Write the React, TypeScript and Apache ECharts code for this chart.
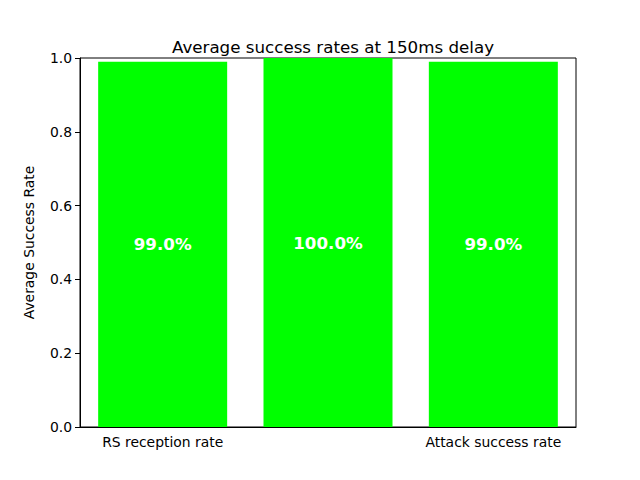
import * as echarts from 'echarts'
import { useEffect, useRef } from 'react'

const categories = ['RS reception rate', 'FS reception rate', 'Attack success rate']
const rates = [0.99, 1.0, 0.99]
const yTicks = [0, 0.2, 0.4, 0.6, 0.8, 1.0]

export default function App() {
  const chartRef = useRef<HTMLDivElement>(null)

  useEffect(() => {
    if (!chartRef.current) return
    const chart = echarts.init(chartRef.current, null, { renderer: 'svg' })

    const font = 'DejaVu Sans'
    chart.setOption({
      animation: false,
      textStyle: { fontFamily: font },
      title: {
        text: 'Average success rates at 150ms delay',
        left: 328,
        textAlign: 'center',
        top: 33,
        textStyle: { fontSize: 16.7, fontWeight: 'normal', color: '#000', fontFamily: font }
      },
      grid: {
        left: 80, right: 64, top: 58, bottom: 53,
        show: true, borderColor: '#000', borderWidth: 1
      },
      xAxis: {
        type: 'category',
        data: categories,
        axisLine: { lineStyle: { color: '#000' } },
        axisTick: { alignWithLabel: true, length: 5, lineStyle: { color: '#000' } },
        axisLabel: { color: '#000', fontSize: 13.9, margin: 8 }
      },
      yAxis: {
        type: 'value',
        min: 0,
        max: 1,
        interval: 0.2,
        name: 'Average Success Rate',
        nameLocation: 'middle',
        nameGap: 44,
        nameTextStyle: { color: '#000', fontSize: 13.9 },
        axisLine: { show: true, lineStyle: { color: '#000' } },
        axisTick: { show: true, length: 5, lineStyle: { color: '#000' } },
        axisLabel: {
          color: '#000', fontSize: 13.9,
          formatter: (v: number) => yTicks.some(t => Math.abs(t - v) < 1e-9) ? v.toFixed(1) : ''
        },
        splitLine: { show: false }
      },
      series: [
        {
          type: 'bar',
          data: rates,
          barWidth: 129,
          itemStyle: { color: '#00ff00' },
          label: {
            show: true,
            position: 'inside',
            formatter: (p: any) => (p.value * 100).toFixed(1) + '%',
            color: '#fff',
            fontWeight: 'bold',
            fontSize: 16.7,
            fontFamily: font
          }
        }
      ]
    })
    return () => chart.dispose()
  }, [])

  return <div ref={chartRef} style={{ position: 'absolute', left: 0, top: 0, width: 640, height: 480, background: '#fff' }} />
}
